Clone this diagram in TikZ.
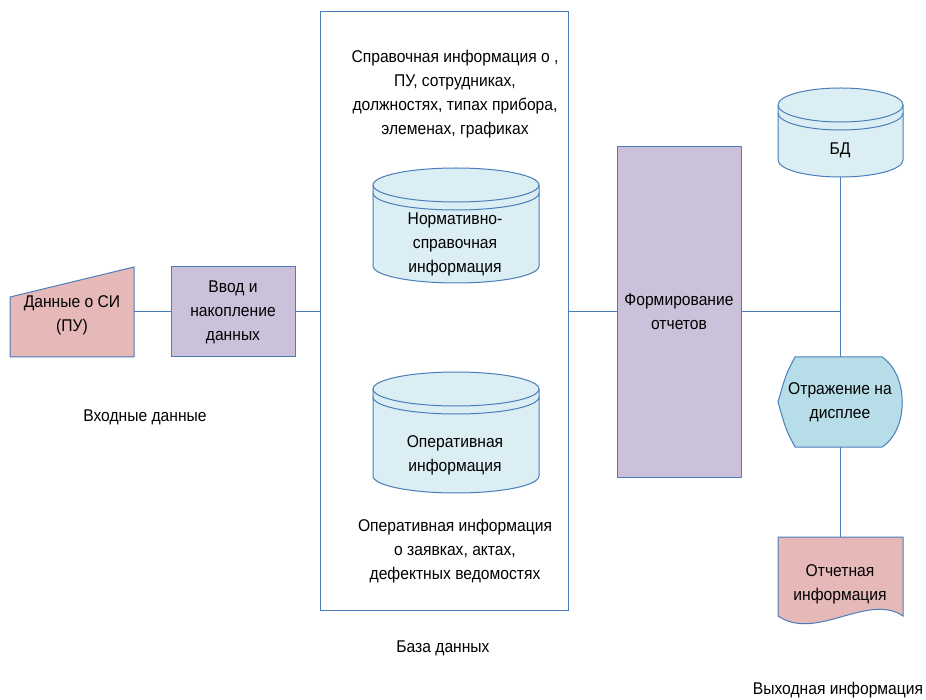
\documentclass[tikz,border=0pt]{standalone}
\usepackage{fontspec}
\setmainfont{Liberation Sans}[FakeStretch=0.92]
\begin{document}
\begin{tikzpicture}[x=1pt,y=-1pt,
  edge/.style={draw=bordc, line width=1pt},
  shp/.style={draw=bordc, line width=1pt},
  lbl/.style={align=center, font=\fontsize{17}{24}\selectfont, inner sep=0pt},
  procbox/.style={shp, fill=purp, minimum width=124pt, lbl}]
\definecolor{bordc}{HTML}{4A7EBB}
\definecolor{pinkf}{HTML}{E6B9B8}
\definecolor{purp}{HTML}{CCC1DA}
\definecolor{cylf}{HTML}{DBEEF4}
\definecolor{dispf}{HTML}{B7DEE8}
\useasboundingbox (0,0) rectangle (926,700);
\fill[white] (0,0) rectangle (926,700);
% cylinder macro: #1 x1, #2 x2, #3 ytop, #4 ybot, #5 ry
\newcommand\mycyl[5]{%
  \pgfmathsetmacro\rx{(#2-#1)/2}%
  \filldraw[shp, fill=cylf] (#1,#3+#5) -- (#1,#4-#5) arc (180:360:\rx pt and #5pt) -- (#2,#3+#5) arc (0:180:\rx pt and #5pt) -- cycle;
  \draw[shp] (#1,#3+#5) arc (180:360:\rx pt and #5pt);
  \draw[shp] (#1,#3+#5+8) arc (180:360:\rx pt and #5pt);
}
% manual input
\filldraw[shp, fill=pinkf] (10,297) -- (134,267) -- (134,357) -- (10,357) -- cycle;
\node[lbl] (src) at (72,315) {Данные о СИ\\(ПУ)};
\coordinate (srcR) at (134,312);
% input box
\node[procbox, minimum height=90pt] (inp) at (233,312) {Ввод и\\накопление\\данных};
% big DB frame
\node[shp, fill=white, minimum width=248pt, minimum height=598pt, inner sep=0pt] (db) at (444,311) {};
\node[lbl] (t1) at (455,94) {Справочная информация о ,\\ПУ, сотрудниках,\\должностях, типах прибора,\\элеменах, графиках};
\mycyl{373}{539}{168}{283}{17}
\node[lbl] (c1) at (455,244) {Нормативно-\\справочная\\информация};
\mycyl{373}{539}{372}{493}{17}
\node[lbl] (c2) at (455,455) {Оперативная\\информация};
\node[lbl] (t2) at (455,551) {Оперативная информация\\о заявках, актах,\\дефектных ведомостях};
\node[lbl] (dbl) at (443,648) {База данных};
% report forming
\node[procbox, minimum height=331pt] (rep) at (679,312) {};
\node[lbl] (repl) at (679,312) {Формирование\\отчетов};
% BD cylinder
\mycyl{778}{903}{88}{177}{17}
\node[lbl] (bd) at (840,150) {БД};
% display
\filldraw[shp, fill=dispf] (795,357) -- (882,357) .. controls (909,375) and (909,430) .. (882,447) -- (795,447) .. controls (786,430) .. (778,402) .. controls (786,374) .. (795,357) -- cycle;
\node[lbl] (disp) at (840,402) {Отражение на\\дисплее};
% document
\filldraw[shp, fill=pinkf] (778,537) -- (903,537) -- (903,616) .. controls (868,592) and (816,642) .. (778,616) -- cycle;
\node[lbl] (doc) at (840,584) {Отчетная\\информация};
\node[lbl] (outl) at (838,690) {Выходная информация};
\node[lbl] (inl) at (145,417) {Входные данные};
% junction
\coordinate (jn) at (840,312);
\coordinate (bdB) at (840,177);
\coordinate (dispT) at (840,357);
\coordinate (dispB) at (840,447);
\coordinate (docT) at (840,537);
% connectors
\draw[edge] (srcR) -- (inp.west);
\draw[edge] (inp.east) -- (db.west |- inp.east);
\draw[edge] (db.east |- rep.west) -- (rep.west);
\draw[edge] (rep.east) -- (jn);
\draw[edge] (bdB) -- (dispT);
\draw[edge] (dispB) -- (docT);
\end{tikzpicture}
\end{document}
